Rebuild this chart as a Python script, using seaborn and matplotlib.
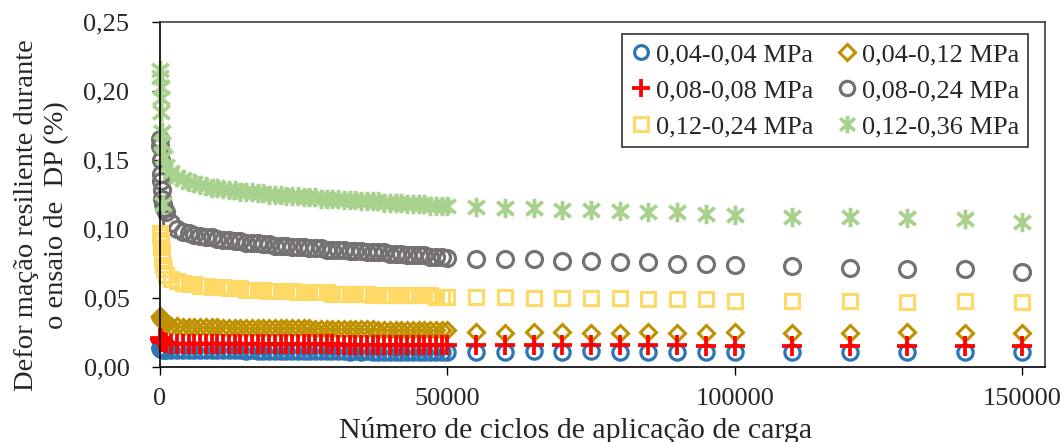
import matplotlib
matplotlib.use("Agg")
import matplotlib.pyplot as plt
import matplotlib.path as mpath
import seaborn as sns
import pandas as pd

# ---------------- data ----------------
cycles_early = [1, 50, 100, 150, 200, 300, 400, 500, 700]
cycles_dense = [1000, 2000, 3000, 4000, 5000, 6000, 7000, 8000, 9000, 10000,
                11000, 12000, 13000, 14000, 15000, 16000, 17000, 18000, 19000, 20000,
                21000, 22000, 23000, 24000, 25000, 26000, 27000, 28000, 29000, 30000,
                31000, 32000, 33000, 34000, 35000, 36000, 37000, 38000, 39000, 40000,
                41000, 42000, 43000, 44000, 45000, 46000, 47000, 48000, 49000, 50000]
cycles_sparse = [55000, 60000, 65000, 70000, 75000, 80000, 85000, 90000, 95000, 100000,
                 110000, 120000, 130000, 140000, 150000]
cycles = cycles_early + cycles_dense + cycles_sparse

s_004_004 = ([.014, .014, .013, .013, .013, .013, .013, .012, .012] +
             [.0125, .012, .012, .012, .012, .012, .012, .012, .012, .012,
              .012, .012, .012, .012, .0115, .012, .0115, .0115, .0115, .0115,
              .0115, .0115, .0115, .0115, .0115, .0115, .0115, .0115, .0115, .0115,
              .0115, .0115, .011, .0115, .011, .0115, .011, .011, .011, .011,
              .011, .011, .011, .011, .011, .011, .011, .011, .011, .011] +
             [.011, .011, .0115, .011, .0115, .011, .011, .011, .011, .011, .011, .011, .011, .011, .011])
s_004_012 = ([.037, .036, .036, .035, .035, .034, .033, .033, .032] +
             [.031, .030, .030, .029, .029, .029, .029, .029, .029, .029,
              .0285, .0285, .0285, .0285, .0285, .028, .028, .028, .028, .028,
              .028, .028, .028, .028, .028, .028, .0275, .0275, .0275, .0275,
              .0275, .0275, .0275, .0275, .0275, .0275, .0275, .027, .027, .027,
              .027, .027, .027, .027, .027, .027, .027, .027, .027, .027] +
             [.0255, .025, .0255, .0255, .025, .025, .0255, .025, .025, .0255, .025, .025, .0255, .0245, .025])
s_008_008 = ([.021, .020, .020, .019, .019, .018, .018, .018, .018] +
             [.0175, .017, .017, .017, .017, .017, .017, .017, .017, .017,
              .017, .017, .017, .017, .0165, .0165, .0165, .0165, .0165, .0165,
              .0165, .0165, .0165, .0165, .0165, .0165, .0165, .0165, .0165, .0165,
              .016, .016, .016, .016, .016, .016, .016, .016, .016, .016,
              .016, .016, .016, .016, .016, .016, .016, .016, .016, .016] +
             [.016, .016, .016, .016, .016, .016, .016, .016, .0155, .0155, .0155, .0155, .0155, .0155, .0155])
s_008_024 = ([.165, .160, .150, .140, .135, .128, .122, .118, .115] +
             [.112, .104, .100, .098, .097, .096, .095, .094, .094, .093,
              .092, .092, .091, .091, .090, .090, .090, .089, .089, .088,
              .088, .088, .087, .087, .087, .086, .086, .086, .085, .085,
              .085, .085, .084, .084, .084, .083, .083, .083, .083, .082,
              .082, .082, .081, .081, .081, .081, .080, .080, .080, .079] +
             [.078, .078, .078, .077, .077, .076, .076, .075, .075, .074, .073, .072, .071, .071, .069])
s_012_024 = ([.097, .095, .092, .090, .087, .083, .078, .074, .071] +
             [.067, .064, .062, .061, .060, .060, .059, .059, .058, .058,
              .058, .057, .057, .057, .056, .056, .056, .056, .055, .055,
              .055, .055, .055, .054, .054, .054, .054, .054, .054, .053,
              .053, .053, .053, .053, .053, .053, .052, .052, .052, .052,
              .052, .052, .052, .052, .052, .052, .052, .051, .051, .051] +
             [.051, .051, .050, .050, .050, .050, .049, .049, .049, .048, .048, .048, .047, .048, .047])
s_012_036 = ([.215, .210, .203, .195, .185, .170, .162, .118, .152] +
             [.146, .141, .138, .136, .134, .133, .132, .131, .130, .130,
              .129, .128, .128, .127, .127, .127, .126, .126, .125, .125,
              .125, .124, .124, .124, .123, .123, .123, .122, .122, .122,
              .122, .121, .121, .121, .120, .120, .120, .120, .119, .119,
              .119, .119, .118, .118, .118, .118, .117, .117, .117, .117] +
             [.116, .115, .115, .114, .114, .113, .112, .112, .111, .110, .109, .109, .108, .107, .105])

labels = ["0,04-0,04 MPa", "0,04-0,12 MPa", "0,08-0,08 MPa",
          "0,08-0,24 MPa", "0,12-0,24 MPa", "0,12-0,36 MPa"]
series = [s_004_004, s_004_012, s_008_008, s_008_024, s_012_024, s_012_036]

x_ticks = [0, 50000, 100000, 150000]
x_ticklabels = ["0", "50000", "100000", "150000"]
y_ticks = [0.00, 0.05, 0.10, 0.15, 0.20, 0.25]
y_ticklabels = ["0,00", "0,05", "0,10", "0,15", "0,20", "0,25"]

# ---------------- style ----------------
sns.set_style("white")
plt.rcParams["font.family"] = ["Liberation Serif", "DejaVu Serif"]

star = mpath.Path([(0, -1), (0, 1), (-0.85, -0.7), (0.85, 0.7), (-0.85, 0.7), (0.85, -0.7)],
                  [mpath.Path.MOVETO, mpath.Path.LINETO, mpath.Path.MOVETO, mpath.Path.LINETO,
                   mpath.Path.MOVETO, mpath.Path.LINETO])

styles = [
    dict(marker="o", color="#2E75B6", ms=11, mew=2.3),
    dict(marker="D", color="#BF9000", ms=8.5, mew=2.2),
    dict(marker="+", color="#FF0000", ms=14, mew=2.7),
    dict(marker="o", color="#767171", ms=11.5, mew=2.3),
    dict(marker="s", color="#FFD966", ms=10.5, mew=2.2),
    dict(marker=star, color="#A9D18E", ms=14, mew=2.7),
]

fig = plt.figure(figsize=(10.61, 4.42), dpi=100)
ax = fig.add_axes([160 / 1061, 1 - 367 / 442, 885 / 1061, 345 / 442])

for lab, vals, st in zip(labels, series, styles):
    df = pd.DataFrame({"x": cycles, "y": vals})
    sns.lineplot(data=df, x="x", y="y", ax=ax, estimator=None, sort=False,
                 marker=st["marker"], linestyle="none", color=st["color"],
                 markersize=st["ms"], markerfacecolor="none",
                 markeredgecolor=st["color"], markeredgewidth=st["mew"],
                 label=lab, clip_on=False)

ax.set_xlim(0, 154000)
ax.set_ylim(0, 0.25)
ax.set_xticks(x_ticks)
ax.set_xticklabels(x_ticklabels)
ax.set_yticks(y_ticks)
ax.set_yticklabels(y_ticklabels)
ax.tick_params(axis="both", which="major", direction="out", length=6, width=1,
               color="black", labelsize=19, bottom=True, left=True)
ax.tick_params(axis="y", pad=16)
ax.tick_params(axis="x", pad=9)

for side in ["left", "bottom"]:
    ax.spines[side].set_color("black")
    ax.spines[side].set_linewidth(1.2)
for side in ["top", "right"]:
    ax.spines[side].set_color("#404040")
    ax.spines[side].set_linewidth(1.2)

ax.set_xlabel("Número de ciclos de aplicação de carga", fontsize=21.5)
ax.xaxis.set_label_coords(0.47, -0.145)
ax.set_ylabel("Defor mação resiliente durante\no ensaio de  DP (%)", fontsize=20.5,
              linespacing=1.25)
ax.yaxis.set_label_coords(-0.103, 0.44)

# legend order: fill columns (col1: 0.04-0.04, 0.08-0.08, 0.12-0.24)
h, l = ax.get_legend_handles_labels()
order = [0, 2, 4, 1, 3, 5]
leg = ax.legend([h[i] for i in order], [l[i] for i in order], ncol=2,
                loc="upper right", bbox_to_anchor=(0.981, 0.965), borderaxespad=0,
                fontsize=19, frameon=True, fancybox=False, edgecolor="black",
                handlelength=0.75, handletextpad=0.2, columnspacing=0.9,
                labelspacing=0.47, borderpad=0.33, markerscale=0.9)
leg.get_frame().set_linewidth(1.2)

fig.savefig("out.png", dpi=100)
